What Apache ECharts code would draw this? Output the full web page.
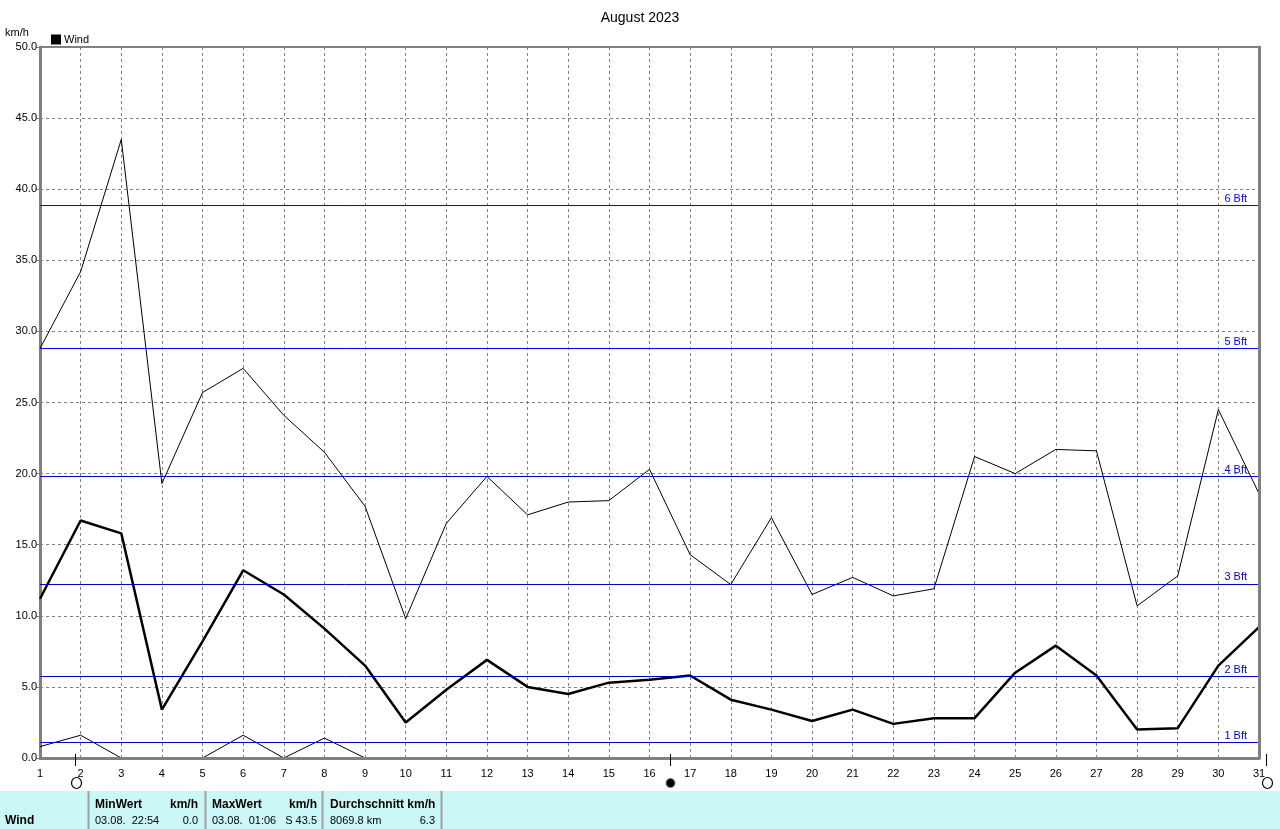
<!DOCTYPE html>
<html>
<head>
<meta charset="utf-8">
<script src="https://cdn.jsdelivr.net/npm/echarts@6/dist/echarts.min.js"></script>
<style>
html,body{margin:0;padding:0;background:#fff;}
#chart{width:1280px;height:829px;}
</style>
</head>
<body>
<div id="chart"></div>
<script>
// ---- data ----
const days = [1,2,3,4,5,6,7,8,9,10,11,12,13,14,15,16,17,18,19,20,21,22,23,24,25,26,27,28,29,30,31];
const maxWind = [28.8,34.2,43.5,19.3,25.7,27.4,24.1,21.5,17.7,9.8,16.5,19.8,17.1,18.0,18.1,20.3,14.3,12.2,16.9,11.5,12.7,11.4,11.9,21.2,20.0,21.7,21.6,10.7,12.8,24.5,18.6];
const avgWind = [11.2,16.7,15.8,3.4,8.2,13.2,11.5,9.1,6.5,2.5,4.8,6.9,5.0,4.5,5.3,5.5,5.8,4.1,3.4,2.6,3.4,2.4,2.8,2.8,6.0,7.9,5.8,2.0,2.1,6.5,9.2];
const minWind = [0.8,1.6,0.0,0.0,0.0,1.6,0.0,1.4,0.0,0,0,0,0,0,0,0,0,0,0,0,0,0,0,0,0,0,0,0,0,0,0];
const bftValues = [1.08,5.76,12.24,19.8,28.8,38.88];
const bftLabels = ['1 Bft','2 Bft','3 Bft','4 Bft','5 Bft','6 Bft'];
const bftColors = ['#0000cc','#0000cc','#0000cc','#0000cc','#0000ff','#0000ff'];
const moonDays = [1.86, 16.5, 31.17];
const moonTypes = ['full','new','full'];
const yMin = 0, yMax = 50, yStep = 5;
const titleText = 'August 2023';
const unitText = 'km/h';
const tableRow = {name:'Wind', minWhen:'03.08.  22:54', minVal:'0.0', maxWhen:'03.08.  01:06', maxVal:'S 43.5', dist:'8069.8 km', avg:'6.3'};

// ---- chart ----
const FONT = '"Liberation Sans", Arial, sans-serif';
const chart = echarts.init(document.getElementById('chart'), null, {renderer:'canvas'});

const gridL = 40, gridR = 21, gridT = 47, gridB = 71;

const bftSeries = bftValues.map((v,i)=>({
  name:'bft'+i,type:'line',xAxisIndex:0,yAxisIndex:0,data:[],z:2,
  markLine:{silent:true,symbol:'none',animation:false,
    lineStyle:{color:bftColors[i],width:1,type:'solid'},
    label:{show:true,formatter:bftLabels[i],position:'insideEndTop',distance:[12,1],color:bftColors[i],fontFamily:FONT,fontSize:11},
    emphasis:{disabled:true},
    data:[{yAxis:v}]}
}));

const option = {
  animation:false,
  backgroundColor:'#ffffff',
  title:{text:titleText,left:'center',top:6,textStyle:{fontFamily:FONT,fontSize:14,fontWeight:'normal',color:'#000'}},
  legend:{data:['Wind'],left:46,top:29,icon:'rect',itemWidth:10,itemHeight:10,itemGap:4,
    textStyle:{fontFamily:FONT,fontSize:11,color:'#000',padding:[0,0,0,-2]}},
  grid:{left:gridL,right:gridR,top:gridT,bottom:gridB,show:true,borderColor:'#808080',borderWidth:2,backgroundColor:'transparent'},
  xAxis:[{
    type:'value',min:1,max:31,interval:1,
    axisLine:{show:false},
    axisTick:{show:false},
    axisLabel:{fontFamily:FONT,fontSize:11,color:'#000',margin:10},
    splitLine:{show:true,lineStyle:{color:'#808080',type:[3,3],width:1}}
  },{
    type:'value',min:1,max:31,interval:1,position:'bottom',z:10,
    axisLine:{show:true,onZero:false,lineStyle:{color:'#808080',width:3}},
    axisTick:{show:false},axisLabel:{show:false},splitLine:{show:false}
  }],
  yAxis:[{
    type:'value',min:yMin,max:yMax,interval:yStep,
    axisLine:{show:true,lineStyle:{color:'#808080',width:3}},
    axisTick:{show:true,length:4,lineStyle:{color:'#808080'}},
    axisLabel:{fontFamily:FONT,fontSize:11,color:'#000',margin:3,formatter:v=>v.toFixed(1)},
    splitLine:{show:true,lineStyle:{color:'#808080',type:[3,3],width:1}}
  },{
    type:'value',min:yMin,max:yMax,interval:yStep,position:'right',z:10,
    axisLine:{show:true,lineStyle:{color:'#808080',width:3}},
    axisTick:{show:false},axisLabel:{show:false},splitLine:{show:false}
  }],
  series:bftSeries.concat([
    {name:'Max',type:'line',xAxisIndex:0,data:days.map((d,i)=>[d,maxWind[i]]),showSymbol:false,symbol:'none',
     lineStyle:{color:'#000',width:1},itemStyle:{color:'#000'},z:3},
    {name:'Wind',type:'line',xAxisIndex:0,data:days.map((d,i)=>[d,avgWind[i]]),showSymbol:false,symbol:'none',
     lineStyle:{color:'#000',width:2.5},itemStyle:{color:'#000'},z:4},
    {name:'Min',type:'line',xAxisIndex:0,data:days.map((d,i)=>[d,minWind[i]]),showSymbol:false,symbol:'none',
     lineStyle:{color:'#000',width:1},itemStyle:{color:'#000'},z:3}
  ])
};
chart.setOption(option);

// ---- extra graphics: unit, moon phases, statistics table ----
const g = [];
g.push({type:'text',left:5,top:27,style:{text:unitText,font:'11px '+FONT,fill:'#000'}});
const y0 = chart.convertToPixel({yAxisIndex:0}, 0);
moonDays.forEach((d,i)=>{
  const x = Math.round(chart.convertToPixel({xAxisIndex:0}, d)) + 0.5;
  g.push({type:'line',z:20,shape:{x1:x,y1:y0-4,x2:x,y2:y0+8},style:{stroke:'#000',lineWidth:1}});
  if(moonTypes[i]==='full'){
    g.push({type:'ellipse',z:20,shape:{cx:x+1,cy:y0+25,rx:5,ry:5.5},style:{fill:'#fff',stroke:'#000',lineWidth:1.2}});
  } else {
    g.push({type:'circle',z:20,shape:{cx:x,cy:y0+25,r:4.5},style:{fill:'#000',stroke:'#808080',lineWidth:1}});
  }
});
// table
const tTop = 791, tH = 38;
g.push({type:'rect',z:1,shape:{x:0,y:tTop,width:1280,height:tH},style:{fill:'#ccf7f7'}});
[88,205,322,441].forEach(x=>{
  g.push({type:'line',z:2,shape:{x1:x+0.5,y1:tTop,x2:x+0.5,y2:tTop+tH},style:{stroke:'#a0a0a0',lineWidth:2}});
});
const r1 = 805, r2 = 821;
const txt = (x,y,s,bold,align)=>g.push({type:'text',z:3,x:x,y:y,style:{text:s,font:(bold?'bold 12px ':'11px ')+FONT,fill:'#000',textAlign:align||'left',textVerticalAlign:'middle'}});
txt(5,r2,tableRow.name,true);
txt(95,r1,'MinWert',true); txt(198,r1,'km/h',true,'right');
txt(95,r2,tableRow.minWhen,false); txt(198,r2,tableRow.minVal,false,'right');
txt(212,r1,'MaxWert',true); txt(317,r1,'km/h',true,'right');
txt(212,r2,tableRow.maxWhen,false); txt(317,r2,tableRow.maxVal,false,'right');
txt(330,r1,'Durchschnitt km/h',true);
txt(330,r2,tableRow.dist,false); txt(435,r2,tableRow.avg,false,'right');
chart.setOption({graphic:g});
</script>
</body>
</html>
